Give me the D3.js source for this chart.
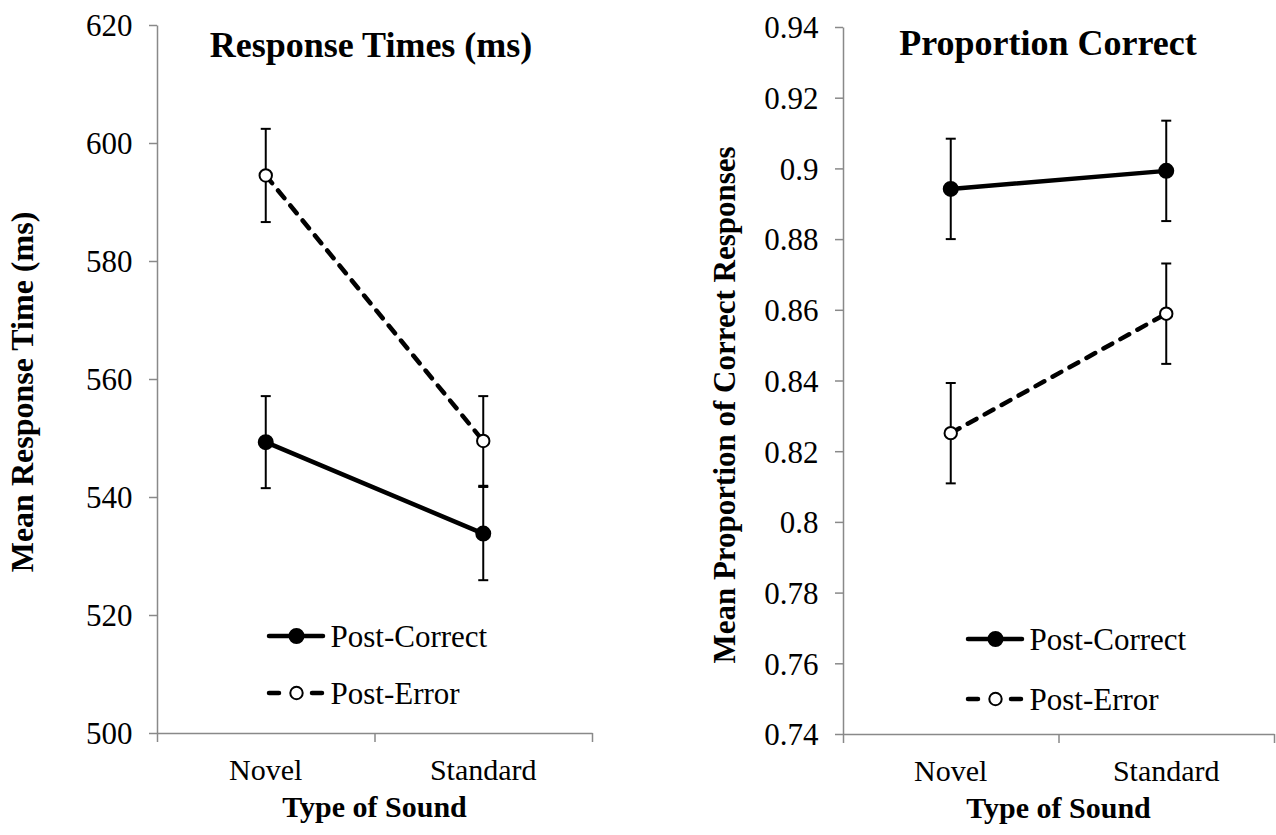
<!DOCTYPE html>
<html>
<head>
<meta charset="utf-8">
<script src="https://cdn.jsdelivr.net/npm/d3@7"></script>
<style>
  body { margin: 0; background: #fff; }
  text { font-family: "Liberation Serif", "Times New Roman", serif; fill: #000; }
</style>
</head>
<body>
<div id="plot-container"></div>
<script>
// Chart data
const categories = ["Novel", "Standard"];
const seriesNames = ["Post-Correct", "Post-Error"];

const rtPostCorrect = [549.3, 533.8];
const rtPostCorrectErr = [7.8, 7.9];
const rtPostError = [594.5, 549.5];
const rtPostErrorErr = [7.9, 7.6];
const rtTicks = [500, 520, 540, 560, 580, 600, 620];

const pcPostCorrect = [0.8942, 0.8993];
const pcPostCorrectErr = [0.0142, 0.0142];
const pcPostError = [0.8251, 0.8589];
const pcPostErrorErr = [0.0142, 0.0142];
const pcTicks = [0.74, 0.76, 0.78, 0.8, 0.82, 0.84, 0.86, 0.88, 0.9, 0.92, 0.94];

const width = 1276;
const height = 835;
const axisColor = "#898989";

const svg = d3.select("#plot-container")
    .append("svg")
    .attr("width", width)
    .attr("height", height);

// Panel layouts
const panels = [
    {
        title: "Response Times (ms)", titleX: 371, titleY: 57,
        yLabel: "Mean Response Time (ms)", yLabelX: 33, yLabelY: 392, yLabelSize: 32,
        left: 157, right: 592, top: 25, bottom: 733,
        ticks: rtTicks, format: d => d,
        series: [
            { mean: rtPostCorrect, err: rtPostCorrectErr },
            { mean: rtPostError, err: rtPostErrorErr }
        ],
        legendX: 267, legendY: [636, 693]
    },
    {
        title: "Proportion Correct", titleX: 1048, titleY: 55,
        yLabel: "Mean Proportion of Correct Responses", yLabelX: 735, yLabelY: 405, yLabelSize: 31,
        left: 843, right: 1274, top: 27, bottom: 734,
        ticks: pcTicks, format: d => String(+d.toFixed(2)),
        series: [
            { mean: pcPostCorrect, err: pcPostCorrectErr },
            { mean: pcPostError, err: pcPostErrorErr }
        ],
        legendX: 966, legendY: [639, 699]
    }
];

// Line and marker styles for the two series
const styles = [
    { dash: null, legendDash: null, fill: "#000", r: 7 },
    { dash: "10,9.4", legendDash: "10,33", fill: "#fff", r: 6.2 }
];

function draw_panel(p) {
    const g = svg.append("g");

    const yScale = d3.scaleLinear()
        .domain([p.ticks[0], p.ticks[p.ticks.length - 1]])
        .range([p.bottom, p.top]);

    const xBand = d3.scaleBand()
        .domain(categories)
        .range([p.left, p.right])
        .padding(0);

    const xEdges = d3.scaleLinear()
        .domain([0, categories.length])
        .range([p.left, p.right]);

    // Y axis
    const yAxis = g.append("g")
        .attr("transform", `translate(${p.left},0)`)
        .call(d3.axisLeft(yScale)
            .tickValues(p.ticks)
            .tickFormat(p.format)
            .tickSize(8)
            .tickSizeOuter(0)
            .tickPadding(16.5));
    yAxis.selectAll("path, line").attr("stroke", axisColor).attr("stroke-width", 1.5);
    yAxis.selectAll("text")
        .attr("font-size", 31)
        .attr("font-family", "Liberation Serif")
        .attr("fill", "#000")
        .attr("dy", "0.35em");

    // X axis with ticks between categories
    const xAxis = g.append("g")
        .attr("transform", `translate(0,${p.bottom})`)
        .call(d3.axisBottom(xEdges)
            .tickValues(d3.range(categories.length + 1))
            .tickFormat("")
            .tickSize(9)
            .tickSizeOuter(0));
    xAxis.selectAll("path, line").attr("stroke", axisColor).attr("stroke-width", 1.5);

    // Category labels
    g.selectAll(".cat")
        .data(categories)
        .enter()
        .append("text")
        .attr("x", d => xBand(d) + xBand.bandwidth() / 2)
        .attr("y", p.bottom + 47)
        .attr("text-anchor", "middle")
        .attr("font-size", 30)
        .text(d => d);

    // X axis title
    g.append("text")
        .attr("x", (p.left + p.right) / 2)
        .attr("y", p.bottom + 84)
        .attr("text-anchor", "middle")
        .attr("font-size", 30)
        .attr("font-weight", "bold")
        .text("Type of Sound");

    // Y axis title
    g.append("text")
        .attr("transform", `translate(${p.yLabelX},${p.yLabelY}) rotate(-90)`)
        .attr("text-anchor", "middle")
        .attr("font-size", p.yLabelSize)
        .attr("font-weight", "bold")
        .text(p.yLabel);

    // Panel title
    g.append("text")
        .attr("x", p.titleX)
        .attr("y", p.titleY)
        .attr("text-anchor", "middle")
        .attr("font-size", 36)
        .attr("font-weight", "bold")
        .text(p.title);

    const cx = d => xBand(d) + xBand.bandwidth() / 2;

    p.series.forEach((s, si) => {
        const pts = categories.map((c, i) => ({ c, v: s.mean[i], e: s.err[i] }));

        // Error bars
        const eb = g.append("g").attr("stroke", "#000").attr("stroke-width", 2);
        eb.selectAll(".stem")
            .data(pts)
            .enter()
            .append("line")
            .attr("x1", d => cx(d.c))
            .attr("x2", d => cx(d.c))
            .attr("y1", d => yScale(d.v + d.e))
            .attr("y2", d => yScale(d.v - d.e));
        ["+", "-"].forEach(sign => {
            eb.selectAll(".cap" + (sign === "+" ? "t" : "b"))
                .data(pts)
                .enter()
                .append("line")
                .attr("x1", d => cx(d.c) - 5)
                .attr("x2", d => cx(d.c) + 5)
                .attr("y1", d => yScale(sign === "+" ? d.v + d.e : d.v - d.e))
                .attr("y2", d => yScale(sign === "+" ? d.v + d.e : d.v - d.e));
        });
    });

    p.series.forEach((s, si) => {
        const pts = categories.map((c, i) => ({ c, v: s.mean[i] }));
        const st = styles[si];

        // Series line
        g.append("path")
            .datum(pts)
            .attr("fill", "none")
            .attr("stroke", "#000")
            .attr("stroke-width", 4.5)
            .attr("stroke-linecap", "round")
            .attr("stroke-dasharray", st.dash)
            .attr("d", d3.line().x(d => cx(d.c)).y(d => yScale(d.v)));

        // Markers
        g.selectAll(".m" + si)
            .data(pts)
            .enter()
            .append("circle")
            .attr("cx", d => cx(d.c))
            .attr("cy", d => yScale(d.v))
            .attr("r", st.r)
            .attr("fill", st.fill)
            .attr("stroke", "#000")
            .attr("stroke-width", 2);

        // Legend entry
        const ly = p.legendY[si];
        g.append("line")
            .attr("x1", p.legendX + 2)
            .attr("x2", p.legendX + 56)
            .attr("y1", ly)
            .attr("y2", ly)
            .attr("stroke", "#000")
            .attr("stroke-width", 4.5)
            .attr("stroke-linecap", "round")
            .attr("stroke-dasharray", st.legendDash);
        g.append("circle")
            .attr("cx", p.legendX + 29.5)
            .attr("cy", ly)
            .attr("r", st.r)
            .attr("fill", st.fill)
            .attr("stroke", "#000")
            .attr("stroke-width", 2);
        g.append("text")
            .attr("x", p.legendX + 63.5)
            .attr("y", ly)
            .attr("dy", "0.36em")
            .attr("font-size", 31)
            .text(seriesNames[si]);
    });
}

panels.forEach(draw_panel);
</script>
</body>
</html>
